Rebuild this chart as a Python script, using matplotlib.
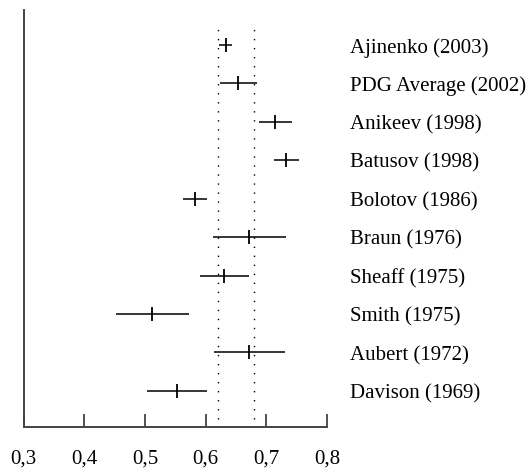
import numpy as np
from matplotlib import pyplot as plt

# experimentos (de cima para baixo) e seus valores
labels = ['Ajinenko (2003)', 'PDG Average (2002)', 'Anikeev (1998)',
          'Batusov (1998)', 'Bolotov (1986)', 'Braun (1976)',
          'Sheaff (1975)', 'Smith (1975)', 'Aubert (1972)', 'Davison (1969)']
values = [0.633, 0.654, 0.715, 0.733, 0.582, 0.672, 0.631, 0.512, 0.672, 0.553]
errors = [0.011, 0.030, 0.027, 0.021, 0.020, 0.060, 0.040, 0.060, 0.059, 0.050]
band = [0.621, 0.679]   # faixa pontilhada
xticks = [0.3, 0.4, 0.5, 0.6, 0.7, 0.8]

plt.rcParams['font.family'] = ['Liberation Serif', 'DejaVu Serif']

fig = plt.figure(figsize=(5.32, 4.69), dpi=100)
ax = fig.add_axes([0.0442, 0.0896, 0.5705, 0.889])

n = len(labels)
y = np.arange(n, 0, -1)

# linhas pontilhadas verticais
for b in band:
    ax.plot([b, b], [0.28, 10.47], color='black', linewidth=1.0,
            linestyle=(0, (1, 5.5)))

ax.errorbar(values, y, xerr=errors, fmt='none', ecolor='black',
            elinewidth=1.1, capsize=0)
ax.plot(values, y, linestyle='none', marker='|', markersize=10.5,
        markeredgewidth=1.3, color='black')

for yi, lab in zip(y, labels):
    ax.text(1.076, yi - 0.2, lab, transform=ax.get_yaxis_transform(),
            ha='left', va='baseline', fontsize=15)

ax.set_xlim(0.3, 0.8)
ax.set_ylim(0.06, 10.91)
ax.set_xticks(xticks)
ax.set_xticklabels([('%.1f' % v).replace('.', ',') for v in xticks], fontsize=15)
ax.set_yticks([])
ax.tick_params(axis='x', direction='in', length=9.5, width=1.2, pad=16,
               color='#333333')
for s in ['top', 'right']:
    ax.spines[s].set_visible(False)
for s in ['left', 'bottom']:
    ax.spines[s].set_linewidth(1.4)
    ax.spines[s].set_color('#444444')

fig.savefig('out.png', dpi=100)
